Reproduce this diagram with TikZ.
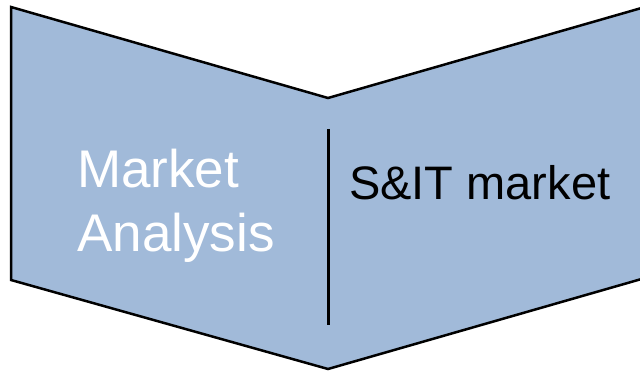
\documentclass[tikz,border=0pt]{standalone}
\usepackage{fontspec}
\setmainfont{Liberation Sans}
\definecolor{chevfill}{RGB}{161,186,217}
\begin{document}
\begin{tikzpicture}[x=1pt,y=-1pt,
  chev/.style={fill=chevfill,draw=black,line width=2.5pt,line join=miter},
  divider/.style={draw=black,line width=3pt},
  lbl/.style={inner sep=0pt,anchor=base west}]
\useasboundingbox (0,0) rectangle (640,371);
\clip (0,0) rectangle (640,371);
\draw[chev] (11,7) -- (328,98) -- (645,7) -- (645,278) -- (328,369) -- (11,280) -- cycle;
\coordinate (dtop) at (328,129);
\coordinate (dbot) at (328,325);
\draw[divider] (dtop) -- (dbot);
\node[lbl,text=white,font=\fontsize{53}{64}\selectfont] (m1) at (77,188) {Market};
\node[lbl,text=white,font=\fontsize{53}{64}\selectfont] (m2) at (77,252) {Analysis};
\node[lbl,text=black,font=\fontsize{47}{56}\selectfont] (s1) at (349,200) {S\&IT market};
\end{tikzpicture}
\end{document}
